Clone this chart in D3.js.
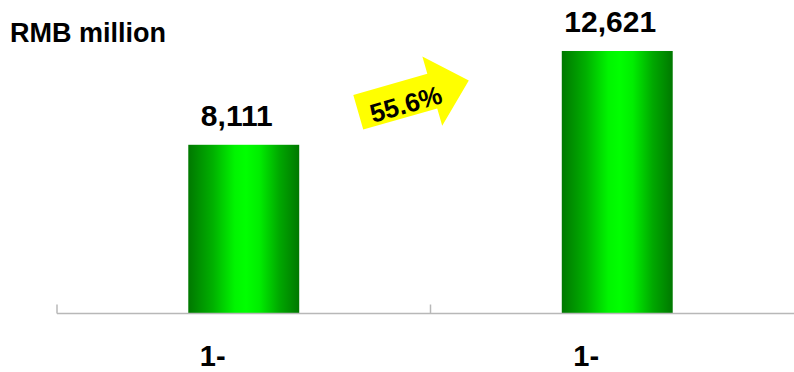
<!DOCTYPE html>
<html>
<head>
<meta charset="utf-8">
<script src="https://cdn.jsdelivr.net/npm/d3@7"></script>
<style>
  html, body { margin: 0; padding: 0; background: #fff; }
  svg { display: block; }
  text { font-family: Arial, "Liberation Sans", Helvetica, sans-serif; font-weight: bold; fill: #000; }
</style>
</head>
<body>
<svg id="chart" width="794" height="372"></svg>
<script>
// Period labels along the category axis and the revenue for each period
const categoryLabels = ["1-", "1-"];
const values = [8111, 12621];
const unitLabel = "RMB million";

const width = 794, height = 372;
const svg = d3.select("#chart");

// Gradient fill: dark green at the edges, bright green through the middle
const defs = svg.append("defs");
const grad = defs.append("linearGradient")
  .attr("id", "barFill")
  .attr("x1", "0%").attr("x2", "100%").attr("y1", "0%").attr("y2", "0%");
[["0%", "#007800"], ["22%", "#00b000"], ["42%", "#00f500"], ["52%", "#00ff00"],
 ["64%", "#00ee00"], ["82%", "#00a800"], ["100%", "#007800"]]
  .forEach(([o, c]) => grad.append("stop").attr("offset", o).attr("stop-color", c));

// Scales
const x = d3.scaleBand()
  .domain(d3.range(values.length))
  .range([57, 804])
  .padding(0);
const barWidth = x.bandwidth() * 0.297;

const y = d3.scaleLinear()
  .domain([0, 15000])
  .range([313.5, 1.5]);

// Unit caption
svg.append("text")
  .attr("x", 10)
  .attr("y", 42)
  .style("font-size", "27px")
  .text(unitLabel);

// Bars
svg.append("g").selectAll("rect")
  .data(values)
  .join("rect")
  .attr("x", (d, i) => x(i) + (x.bandwidth() - barWidth) / 2)
  .attr("width", barWidth)
  .attr("y", d => y(d))
  .attr("height", d => y(0) - y(d))
  .attr("fill", "url(#barFill)");

// Value labels above the bars
const fmt = d3.format(",");
svg.append("g").selectAll("text")
  .data(values)
  .join("text")
  .attr("x", (d, i) => x(i) + x.bandwidth() / 2 - 7)
  .attr("y", d => y(d) - 19)
  .attr("text-anchor", "middle")
  .style("font-size", "30px")
  .text(d => fmt(d));

// Category axis: baseline, boundary ticks pointing up, labels below
const axis = svg.append("g");
axis.append("line")
  .attr("x1", x.range()[0]).attr("x2", x.range()[1])
  .attr("y1", y(0)).attr("y2", y(0))
  .attr("stroke", "#b8b8b8")
  .attr("stroke-width", 1.5);

const boundaries = x.domain().map(i => x(i)).concat([x.range()[1]]);
axis.selectAll("line.tick")
  .data(boundaries)
  .join("line")
  .attr("class", "tick")
  .attr("x1", d => d).attr("x2", d => d)
  .attr("y1", y(0)).attr("y2", y(0) - 9)
  .attr("stroke", "#b8b8b8")
  .attr("stroke-width", 1.5);

axis.selectAll("text")
  .data(categoryLabels)
  .join("text")
  .attr("x", (d, i) => x(i) + x.bandwidth() / 2 - 31)
  .attr("y", 366)
  .attr("text-anchor", "middle")
  .style("font-size", "29px")
  .text(d => d);

// Growth arrow between the two periods
const growth = (values[1] - values[0]) / values[0];
const shaftLen = 77, shaftHalf = 18, headHalf = 36, headLen = 38;
const arrowPath = d3.path();
arrowPath.moveTo(0, 0);
arrowPath.lineTo(shaftLen, 0);
arrowPath.lineTo(shaftLen, shaftHalf - headHalf);
arrowPath.lineTo(shaftLen + headLen, shaftHalf);
arrowPath.lineTo(shaftLen, shaftHalf + headHalf);
arrowPath.lineTo(shaftLen, shaftHalf * 2);
arrowPath.lineTo(0, shaftHalf * 2);
arrowPath.closePath();

const arrow = svg.append("g")
  .attr("transform", "translate(353.3,95) rotate(-16)");
arrow.append("path")
  .attr("d", arrowPath.toString())
  .attr("fill", "#ffff00");
arrow.append("text")
  .attr("x", 48)
  .attr("y", 23)
  .attr("dy", "0.36em")
  .attr("text-anchor", "middle")
  .style("font-size", "26px")
  .text(d3.format(".1%")(growth));
</script>
</body>
</html>
